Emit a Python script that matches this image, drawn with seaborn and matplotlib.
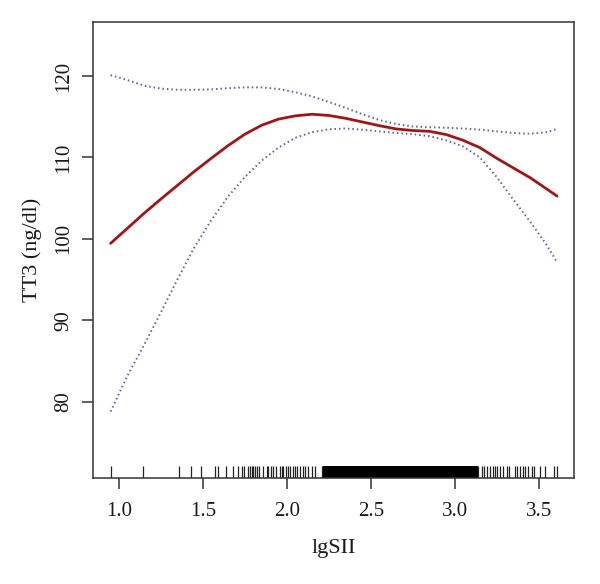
import numpy as np
import pandas as pd
import matplotlib
matplotlib.use("Agg")
import matplotlib.pyplot as plt
import seaborn as sns

# smooth curve
lgsii = [0.95, 1.05, 1.15, 1.25, 1.35, 1.45, 1.55, 1.65, 1.75, 1.85,
         1.95, 2.05, 2.15, 2.25, 2.35, 2.45, 2.55, 2.65, 2.75, 2.85,
         2.95, 3.05, 3.15, 3.25, 3.35, 3.45, 3.55, 3.61]
fit = [99.45, 101.3, 103.15, 104.9, 106.6, 108.3, 109.9, 111.45, 112.85, 113.95,
       114.7, 115.1, 115.3, 115.15, 114.8, 114.35, 113.9, 113.5, 113.3, 113.2,
       112.8, 112.1, 111.2, 109.9, 108.7, 107.5, 106.1, 105.25]
upper = [120.1, 119.5, 118.8, 118.45, 118.3, 118.3, 118.35, 118.5, 118.6, 118.6,
         118.4, 118.0, 117.5, 116.8, 116.1, 115.3, 114.6, 114.1, 113.8, 113.7,
         113.65, 113.55, 113.4, 113.2, 113.0, 112.9, 113.1, 113.5]
lower = [78.8, 83.2, 87.0, 91.0, 95.1, 99.0, 102.3, 105.2, 107.6, 109.6,
         111.2, 112.4, 113.1, 113.45, 113.55, 113.4, 113.2, 113.0, 112.85, 112.6,
         112.1, 111.35, 110.0, 107.6, 104.8, 102.1, 99.2, 97.1]

# observations shown in the rug
rug_sparse = [0.95, 1.14, 1.36, 1.43, 1.49, 1.57, 1.59, 1.64, 1.68, 1.71,
              1.73, 1.745, 1.77, 1.78, 1.79, 1.80, 1.81, 1.82, 1.836, 1.856,
              1.88, 1.89, 1.904, 1.92, 1.936, 1.96, 1.97, 1.979, 1.995, 2.005,
              2.019, 2.035, 2.048, 2.062, 2.078, 2.094, 2.108, 2.128, 2.148, 2.167,
              2.208,
              3.141, 3.161, 3.175, 3.191, 3.211, 3.231, 3.241, 3.254, 3.271, 3.29,
              3.31, 3.322, 3.36, 3.374, 3.39, 3.406, 3.42, 3.439, 3.459, 3.473,
              3.509, 3.539, 3.593, 3.61]
rug_dense = [2.22, 2.23, 2.24, 2.25, 2.26, 2.27, 2.28, 2.29, 2.30, 2.31,
             2.32, 2.33, 2.34, 2.35, 2.36, 2.37, 2.38, 2.39, 2.40, 2.41,
             2.42, 2.43, 2.44, 2.45, 2.46, 2.47, 2.48, 2.49, 2.50, 2.51,
             2.52, 2.53, 2.54, 2.55, 2.56, 2.57, 2.58, 2.59, 2.60, 2.61,
             2.62, 2.63, 2.64, 2.65, 2.66, 2.67, 2.68, 2.69, 2.70, 2.71,
             2.72, 2.73, 2.74, 2.75, 2.76, 2.77, 2.78, 2.79, 2.80, 2.81,
             2.82, 2.83, 2.84, 2.85, 2.86, 2.87, 2.88, 2.89, 2.90, 2.91,
             2.92, 2.93, 2.94, 2.95, 2.96, 2.97, 2.98, 2.99, 3.00, 3.01,
             3.02, 3.03, 3.04, 3.05, 3.06, 3.07, 3.08, 3.09, 3.10, 3.11,
             3.12, 3.13]

x_ticks = [1.0, 1.5, 2.0, 2.5, 3.0, 3.5]
y_ticks = [80, 90, 100, 110, 120]

curves = pd.DataFrame({"lgSII": lgsii, "fit": fit, "upper": upper, "lower": lower})

sns.set_style("ticks")
plt.rcParams["font.family"] = ["Liberation Serif", "DejaVu Serif"]

fig = plt.figure(figsize=(6, 5.84), dpi=100)
ax = fig.add_axes([0.155, 0.1815, 0.802, 0.7805])

ci_col = "#64649e"
sns.lineplot(data=curves, x="lgSII", y="upper", ax=ax, color=ci_col,
             linewidth=1.4, sort=False)
sns.lineplot(data=curves, x="lgSII", y="lower", ax=ax, color=ci_col,
             linewidth=1.4, sort=False)
for ln in ax.lines:
    ln.set_linestyle((0, (0.8, 1.5)))
sns.lineplot(data=curves, x="lgSII", y="fit", ax=ax, color="#a31515",
             linewidth=2.0, sort=False)

sns.rugplot(x=rug_sparse, ax=ax, height=0.027, color="#222222",
            linewidth=0.9, expand_margins=False)
sns.rugplot(x=rug_dense, ax=ax, height=0.027, color="black",
            linewidth=1.6, expand_margins=False)

ax.set_xlim(0.845, 3.712)
ax.set_ylim(70.64, 126.6)
ax.set_xticks(x_ticks)
ax.set_xticklabels([f"{v:.1f}" for v in x_ticks])
ax.set_yticks(y_ticks)
ax.set_yticklabels([str(v) for v in y_ticks], rotation=90, va="center")

for s in ax.spines.values():
    s.set_visible(True)
    s.set_linewidth(1.1)
    s.set_color("#333333")
ax.tick_params(axis="both", direction="out", length=8, width=1.1,
               color="#333333", labelsize=15, labelcolor="#1a1a1a")
ax.tick_params(axis="x", pad=9)
ax.tick_params(axis="y", pad=6)

ax.set_xlabel("lgSII", fontsize=16, color="#1a1a1a", labelpad=13)
ax.set_ylabel("TT3 (ng/dl)", fontsize=16, color="#1a1a1a", labelpad=9)

fig.savefig("out.png", dpi=100)
